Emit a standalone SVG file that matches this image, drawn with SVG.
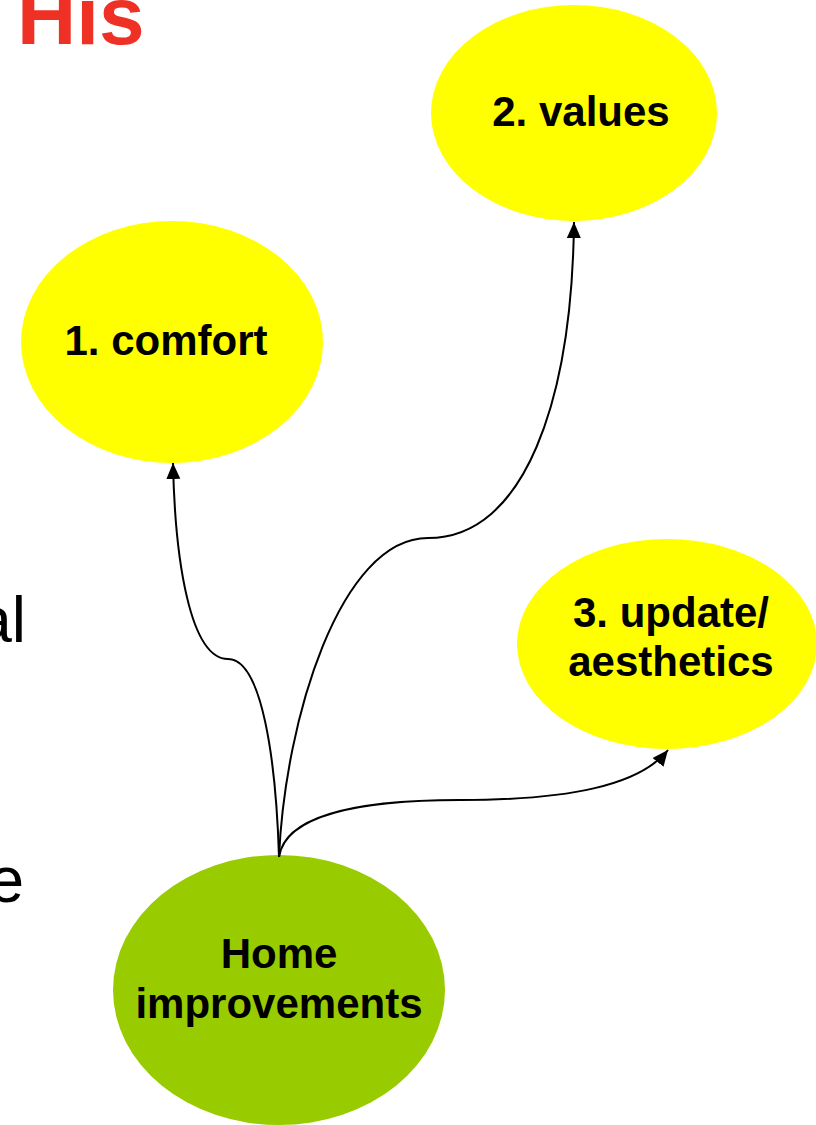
<svg xmlns="http://www.w3.org/2000/svg" width="816" height="1125" viewBox="0 0 816 1125">
<style>
.lbl{font-family:"Liberation Sans",Arial,sans-serif;font-weight:bold;font-size:42px;fill:#000;text-anchor:middle}
.bg{font-family:"Liberation Sans",Arial,sans-serif;font-size:64px;fill:#000}
.yel{fill:#FFFF00}
.grn{fill:#99CC00}
.con{fill:none;stroke:#000;stroke-width:2}
</style>
<defs>
<marker id="a2" markerUnits="userSpaceOnUse" markerWidth="18" markerHeight="18" refX="16" refY="9" orient="auto">
<path d="M0,2 L16,9 L0,16 Z" fill="#000"/>
</marker>
</defs>
<text x="17" y="44" font-family="'Liberation Sans',Arial,sans-serif" font-weight="bold" font-size="82" fill="#EE3124">His</text>
<text class="bg" x="26" y="642" text-anchor="end">al</text>
<text class="bg" x="24" y="902" text-anchor="end">e</text>
<g id="n-comfort">
<ellipse class="yel" cx="172" cy="342" rx="151" ry="121"/>
<text class="lbl" x="166" y="355">1. comfort</text>
</g>
<g id="n-values">
<ellipse class="yel" cx="574" cy="113" rx="143" ry="108"/>
<text class="lbl" x="581" y="126">2. values</text>
</g>
<g id="n-update">
<ellipse class="yel" cx="667" cy="644" rx="150" ry="105"/>
<text class="lbl" x="671" y="627">3. update/</text>
<text class="lbl" x="671" y="676">aesthetics</text>
</g>
<g id="n-home">
<ellipse class="grn" cx="279" cy="990" rx="166" ry="135"/>
<text class="lbl" x="279" y="968">Home</text>
<text class="lbl" x="279" y="1018">improvements</text>
</g>
<g id="connectors">
<path class="con" marker-end="url(#a2)" d="M279,857 C276,760 262,659 228,659 C190,659 175,560 173,463"/>
<path class="con" marker-end="url(#a2)" d="M279,857 C285,720 340,538 428,538 C525,538 572,400 574,222"/>
<path class="con" marker-end="url(#a2)" d="M279,857 C285,815 360,800 460,800 C570,800 640,785 668,750"/>
</g>
</svg>
